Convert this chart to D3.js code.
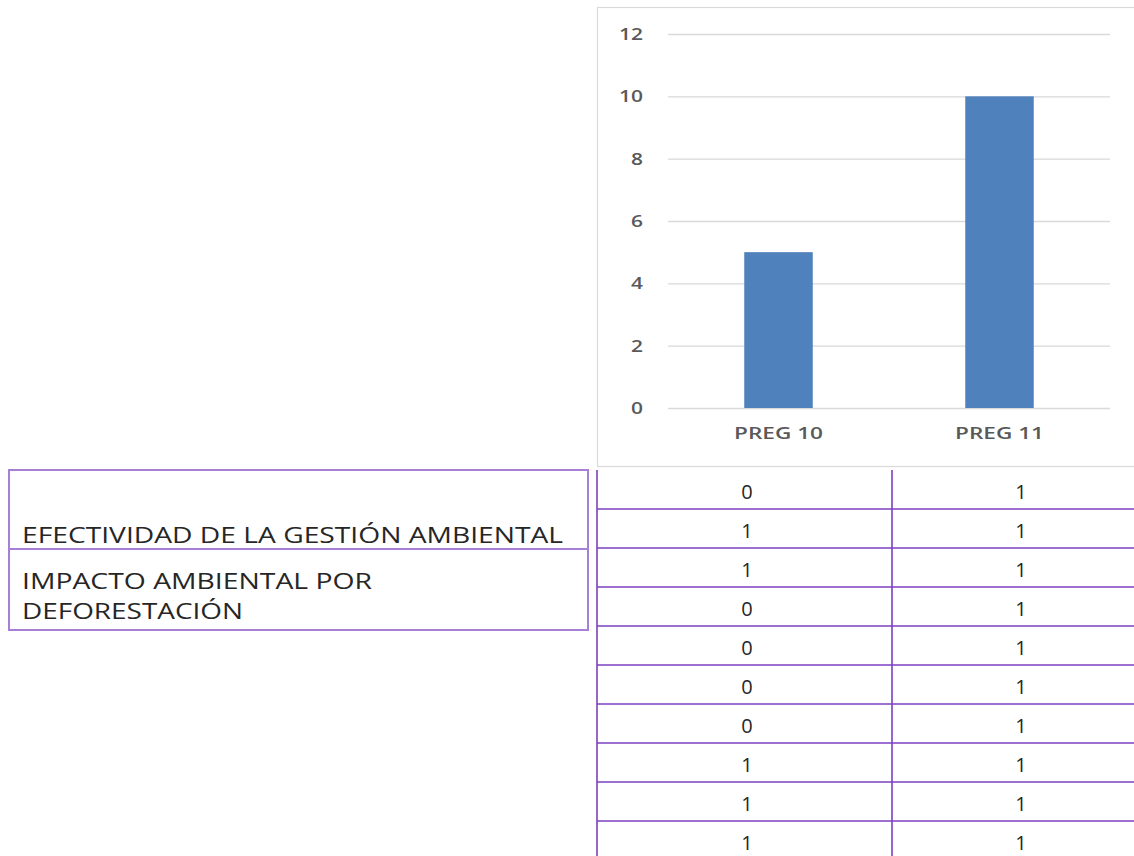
<!DOCTYPE html>
<html>
<head>
<meta charset="utf-8">
<script src="https://d3js.org/d3.v7.min.js"></script>
<style>
  body { margin: 0; background: #fff; }
  svg { display: block; }
</style>
</head>
<body>
<div id="chartContainer"></div>
<script>
// chart data
var categories = ["PREG 10", "PREG 11"];
var totals = [5, 10];
var yTicks = [0, 2, 4, 6, 8, 10, 12];

// answers table under the chart
var preg10 = [0, 1, 1, 0, 0, 0, 0, 1, 1, 1];
var preg11 = [1, 1, 1, 1, 1, 1, 1, 1, 1, 1];

var W = 1134, H = 856;
var svg = d3.select("#chartContainer").append("svg").attr("width", W).attr("height", H);

var purple = "#7d3fc0";
var font = "'Open Sans', 'DejaVu Sans', sans-serif";

// chart frame
svg.append("rect").attr("x", 597.5).attr("y", 7.5).attr("width", 560).attr("height", 459)
  .attr("fill", "#fff").attr("stroke", "#d9d9d9").attr("stroke-width", 1.2);

// scales
var x = d3.scaleBand().domain(categories).range([668, 1110]).paddingInner(0.69).paddingOuter(0.345);
var y = d3.scaleLinear().domain([0, 12]).range([408, 34]);

// gridlines + y labels
var yAxis = svg.append("g").attr("transform", "translate(668,0)")
  .call(d3.axisLeft(y).tickValues(yTicks).tickSize(-442).tickPadding(25));
yAxis.select(".domain").remove();
yAxis.selectAll(".tick line").attr("stroke", "#d9d9d9").attr("stroke-width", 1.3);
yAxis.selectAll(".tick text").attr("fill", "#595959")
  .attr("textLength", function(d) { return String(d).length * 12; })
  .attr("lengthAdjust", "spacingAndGlyphs")
  .style("font-family", font).style("font-size", "17px").style("font-weight", "600");

// bars
svg.selectAll("rect.bar").data(categories).enter().append("rect")
  .attr("class", "bar")
  .attr("x", function(d) { return x(d); })
  .attr("width", x.bandwidth())
  .attr("y", function(d, i) { return y(totals[i]); })
  .attr("height", function(d, i) { return y(0) - y(totals[i]); })
  .attr("fill", "#4f81bd");

// category labels
var xAxis = svg.append("g").attr("transform", "translate(0,408)")
  .call(d3.axisBottom(x).tickSize(0).tickPadding(19));
xAxis.select(".domain").remove();
xAxis.selectAll(".tick text").attr("fill", "#595959")
  .attr("textLength", 89).attr("lengthAdjust", "spacingAndGlyphs")
  .style("font-family", font).style("font-size", "17px").style("font-weight", "600");

// left label box
var rowBounds = [470, 549, 630];
svg.append("rect").attr("x", 9).attr("y", rowBounds[0]).attr("width", 579).attr("height", rowBounds[2] - rowBounds[0])
  .attr("fill", "none").attr("stroke", "#a77fd6").attr("stroke-width", 2);
svg.append("line").attr("x1", 9).attr("x2", 588).attr("y1", rowBounds[1]).attr("y2", rowBounds[1])
  .attr("stroke", "#a77fd6").attr("stroke-width", 2);

var labelLines = [
  { t: "EFECTIVIDAD DE LA GESTIÓN AMBIENTAL", y: 543, w: 541 },
  { t: "IMPACTO AMBIENTAL POR", y: 589, w: 350 },
  { t: "DEFORESTACIÓN", y: 619, w: 221 }
];
svg.selectAll("text.lbl").data(labelLines).enter().append("text")
  .attr("class", "lbl")
  .attr("x", 22).attr("y", function(d) { return d.y; })
  .attr("textLength", function(d) { return d.w; })
  .attr("lengthAdjust", "spacingAndGlyphs")
  .attr("fill", "#262626")
  .style("font-family", font).style("font-size", "21px")
  .text(function(d) { return d.t; });

// answers grid
var rowY = d3.scaleLinear().domain([0, 1]).range([470, 509]);
var colX = [597, 892];
var colCenter = [747, 1021];
var rows = d3.range(preg10.length);

svg.selectAll("line.hl").data(rows.slice(1)).enter().append("line")
  .attr("class", "hl")
  .attr("x1", colX[0]).attr("x2", W)
  .attr("y1", function(d) { return rowY(d); }).attr("y2", function(d) { return rowY(d); })
  .attr("stroke", purple).attr("stroke-width", 1.6);
colX.forEach(function(cx) {
  svg.append("line").attr("x1", cx).attr("x2", cx).attr("y1", 470).attr("y2", H)
    .attr("stroke", purple).attr("stroke-width", 1.6);
});

[preg10, preg11].forEach(function(col, c) {
  svg.selectAll("text.c" + c).data(col).enter().append("text")
    .attr("class", "c" + c)
    .attr("x", colCenter[c])
    .attr("y", function(d, i) { return rowY(i) + 29; })
    .attr("text-anchor", "middle")
    .attr("fill", "#262626")
    .style("font-family", font).style("font-size", "20px")
    .text(function(d) { return d; });
});
</script>
</body>
</html>
